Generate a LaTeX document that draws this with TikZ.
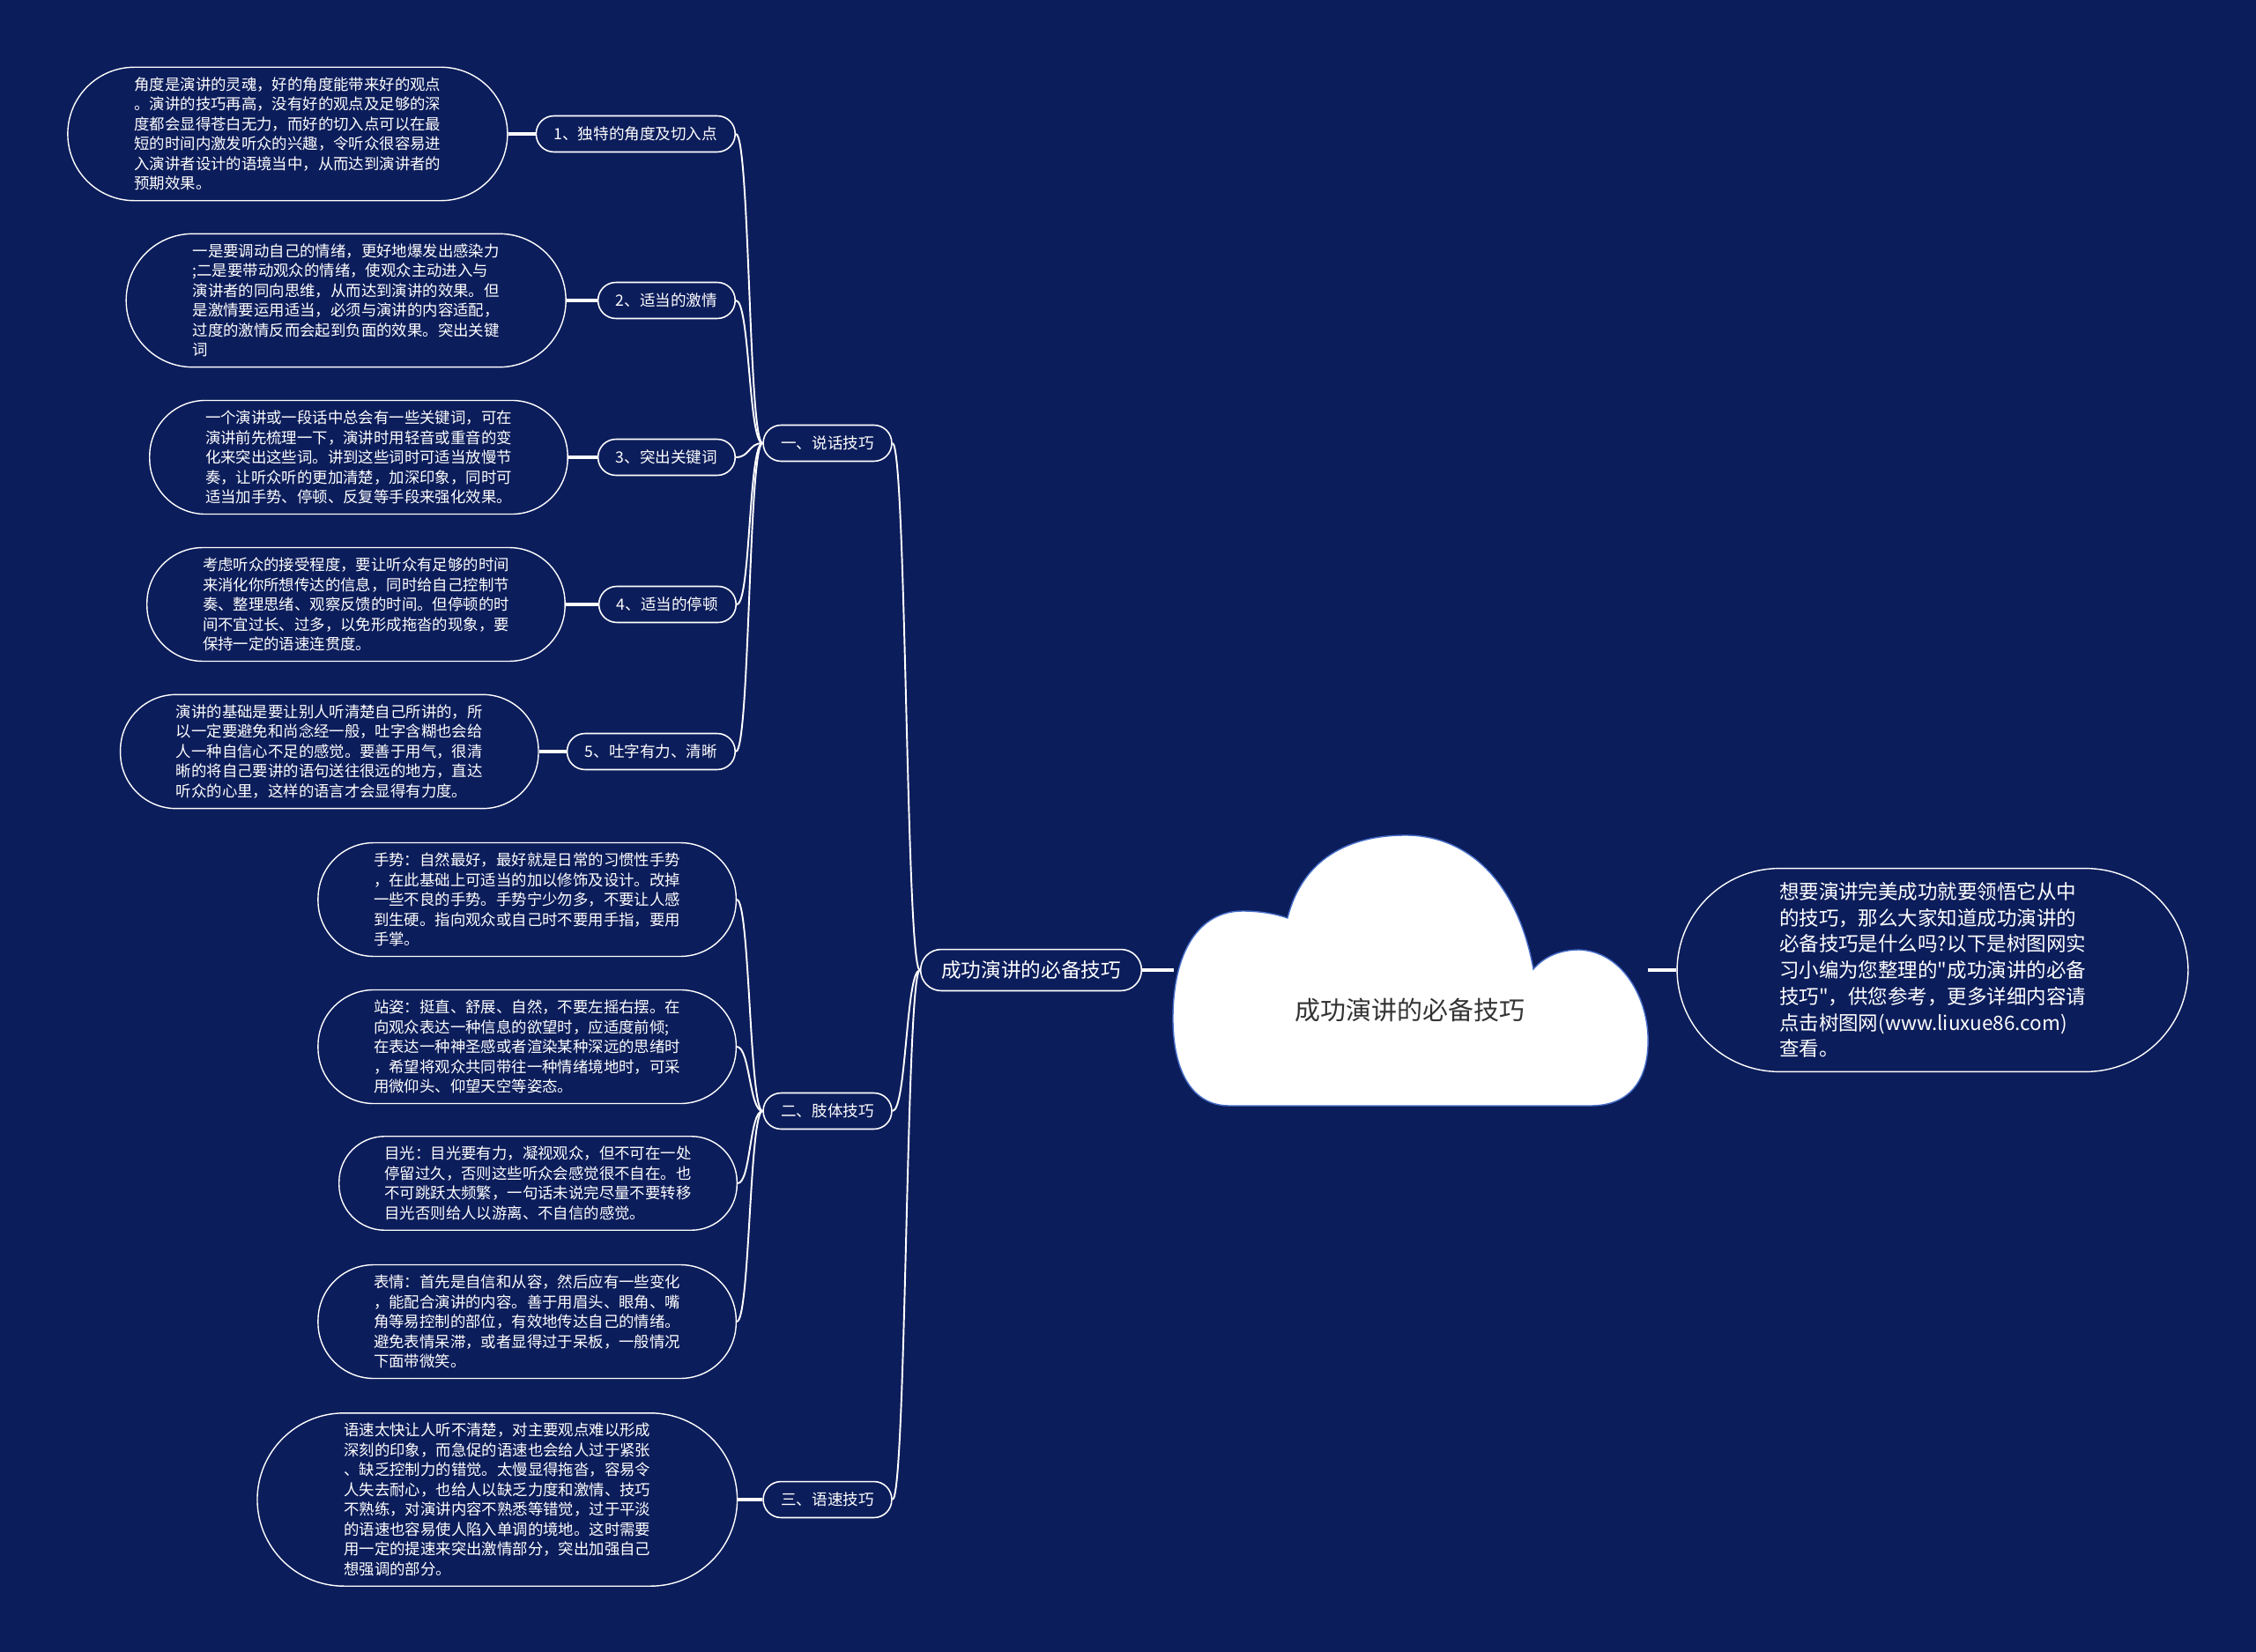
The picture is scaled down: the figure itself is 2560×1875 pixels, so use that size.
\documentclass[tikz,border=0pt]{standalone}
\usepackage{fontspec}
\setmainfont{Noto Sans CJK SC}[Ligatures=TeXOff]
\usetikzlibrary{positioning}
\definecolor{navybg}{RGB}{12,29,91}
\definecolor{cloudedge}{RGB}{70,110,200}
\definecolor{roottext}{RGB}{51,51,51}

\begin{document}
\begin{tikzpicture}[x=0.02cm,y=-0.02cm,
  leaf/.style={rectangle,rounded corners=#1,inner xsep=#1,draw=white,line width=0.8pt,text=white,align=left,inner ysep=6.5pt,font=\fontsize{9.9pt}{12.8pt}\selectfont},
  leaf/.default=36pt,
  sub/.style={rectangle,rounded corners=11.5pt,draw=white,line width=0.9pt,text=white,inner xsep=11.5pt,inner ysep=0pt,minimum height=23.3pt,font=\fontsize{10pt}{12pt}\selectfont},
  link/.style={white,line width=1.1pt},
  stub/.style={white,line width=1.8pt}]
\useasboundingbox (0,0) rectangle (2560,1875);
\fill[navybg] (0,0) rectangle (2560,1875);

% cloud
\filldraw[fill=white,draw=cloudedge,line width=0.8pt]
  (1461,1042) .. controls (1478,975) and (1530,948) .. (1595,948)
  .. controls (1665,948) and (1722,1000) .. (1740,1100)
  .. controls (1752,1086) and (1770,1078) .. (1792,1078)
  .. controls (1840,1080) and (1868,1130) .. (1870,1175)
  .. controls (1872,1225) and (1850,1255) .. (1805,1255)
  -- (1395,1255)
  .. controls (1352,1255) and (1332,1215) .. (1331,1160)
  .. controls (1330,1078) and (1362,1034) .. (1410,1034)
  .. controls (1432,1034) and (1450,1038) .. (1461,1042) -- cycle;
\node[font=\fontsize{16.5pt}{20pt}\selectfont,text=roottext] (root) at (1600,1147) {成功演讲的必备技巧};
\coordinate (cloudW) at (1332,1101);
\coordinate (cloudE) at (1870,1101);

\node[sub,rounded corners=13.3pt,inner xsep=13.3pt,minimum height=26.7pt,font=\fontsize{12.9pt}{15pt}\selectfont] (main) at (1170,1101) {成功演讲的必备技巧};
\node[leaf=66pt,inner ysep=9pt,font=\fontsize{12.8pt}{16.9pt}\selectfont] (intro) at (2193,1101) {想要演讲完美成功就要领悟它从中\\
的技巧，那么大家知道成功演讲的\\
必备技巧是什么吗?以下是树图网实\\
习小编为您整理的"成功演讲的必备\\
技巧"，供您参考，更多详细内容请\\
点击树图网(www.liuxue86.com)\\
查看。};

\node[sub] (b1) at (939,503) {一、说话技巧};
\node[sub] (b2) at (939,1261) {二、肢体技巧};
\node[sub] (b3) at (939,1702) {三、语速技巧};

\node[sub,anchor=east] (s1) at (835,152) {1、独特的角度及切入点};
\node[sub,anchor=east] (s2) at (835,341) {2、适当的激情};
\node[sub,anchor=east] (s3) at (835,519) {3、突出关键词};
\node[sub,anchor=east] (s4) at (836,686) {4、适当的停顿};
\node[sub,anchor=east] (s5) at (835,853) {5、吐字有力、清晰};

\node[leaf=43pt,left=0.62cm of s1] (t1) {角度是演讲的灵魂，好的角度能带来好的观点\\
。演讲的技巧再高，没有好的观点及足够的深\\
度都会显得苍白无力，而好的切入点可以在最\\
短的时间内激发听众的兴趣，令听众很容易进\\
入演讲者设计的语境当中，从而达到演讲者的\\
预期效果。};
\node[leaf=43pt,left=0.7cm of s2] (t2) {一是要调动自己的情绪，更好地爆发出感染力\\
;二是要带动观众的情绪，使观众主动进入与\\
演讲者的同向思维，从而达到演讲的效果。但\\
是激情要运用适当，必须与演讲的内容适配，\\
过度的激情反而会起到负面的效果。突出关键\\
词};
\node[leaf,left=0.66cm of s3] (t3) {一个演讲或一段话中总会有一些关键词，可在\\
演讲前先梳理一下，演讲时用轻音或重音的变\\
化来突出这些词。讲到这些词时可适当放慢节\\
奏，让听众听的更加清楚，加深印象，同时可\\
适当加手势、停顿、反复等手段来强化效果。};
\node[leaf,left=0.74cm of s4] (t4) {考虑听众的接受程度，要让听众有足够的时间\\
来消化你所想传达的信息，同时给自己控制节\\
奏、整理思绪、观察反馈的时间。但停顿的时\\
间不宜过长、过多，以免形成拖沓的现象，要\\
保持一定的语速连贯度。};
\node[leaf,left=0.62cm of s5] (t5) {演讲的基础是要让别人听清楚自己所讲的，所\\
以一定要避免和尚念经一般，吐字含糊也会给\\
人一种自信心不足的感觉。要善于用气，很清\\
晰的将自己要讲的语句送往很远的地方，直达\\
听众的心里，这样的语言才会显得有力度。};

\node[leaf,anchor=east] (t6) at (836,1021) {手势：自然最好，最好就是日常的习惯性手势\\
，在此基础上可适当的加以修饰及设计。改掉\\
一些不良的手势。手势宁少勿多，不要让人感\\
到生硬。指向观众或自己时不要用手指，要用\\
手掌。};
\node[leaf,anchor=east] (t7) at (836,1188) {站姿：挺直、舒展、自然，不要左摇右摆。在\\
向观众表达一种信息的欲望时，应适度前倾;\\
在表达一种神圣感或者渲染某种深远的思绪时\\
，希望将观众共同带往一种情绪境地时，可采\\
用微仰头、仰望天空等姿态。};
\node[leaf=29.5pt,anchor=east] (t8) at (837,1343) {目光：目光要有力，凝视观众，但不可在一处\\
停留过久，否则这些听众会感觉很不自在。也\\
不可跳跃太频繁，一句话未说完尽量不要转移\\
目光否则给人以游离、不自信的感觉。};
\node[leaf,anchor=east] (t9) at (836,1500) {表情：首先是自信和从容，然后应有一些变化\\
，能配合演讲的内容。善于用眉头、眼角、嘴\\
角等易控制的部位，有效地传达自己的情绪。\\
避免表情呆滞，或者显得过于呆板，一般情况\\
下面带微笑。};
\node[leaf=56pt,left=0.56cm of b3] (t10) {语速太快让人听不清楚，对主要观点难以形成\\
深刻的印象，而急促的语速也会给人过于紧张\\
、缺乏控制力的错觉。太慢显得拖沓，容易令\\
人失去耐心，也给人以缺乏力度和激情、技巧\\
不熟练，对演讲内容不熟悉等错觉，过于平淡\\
的语速也容易使人陷入单调的境地。这时需要\\
用一定的提速来突出激情部分，突出加强自己\\
想强调的部分。};

% connectors
\draw[stub] (main.east) -- (cloudW);
\draw[stub] (cloudE) -- (intro.west);
\foreach \n in {1,2,3}
  \draw[link] (main.west) .. controls +(-16,0) and +(16,0) .. (b\n.east);
\foreach \n in {1,...,5}
  \draw[link] (b1.west) .. controls +(-16,0) and +(16,0) .. (s\n.east);
\foreach \n in {1,...,5}
  \draw[stub] (t\n.east) -- (s\n.west);
\foreach \n in {6,...,9}
  \draw[link] (b2.west) .. controls +(-15,0) and +(15,0) .. (t\n.east);
\draw[stub] (t10.east) -- (b3.west);

\end{tikzpicture}
\end{document}
